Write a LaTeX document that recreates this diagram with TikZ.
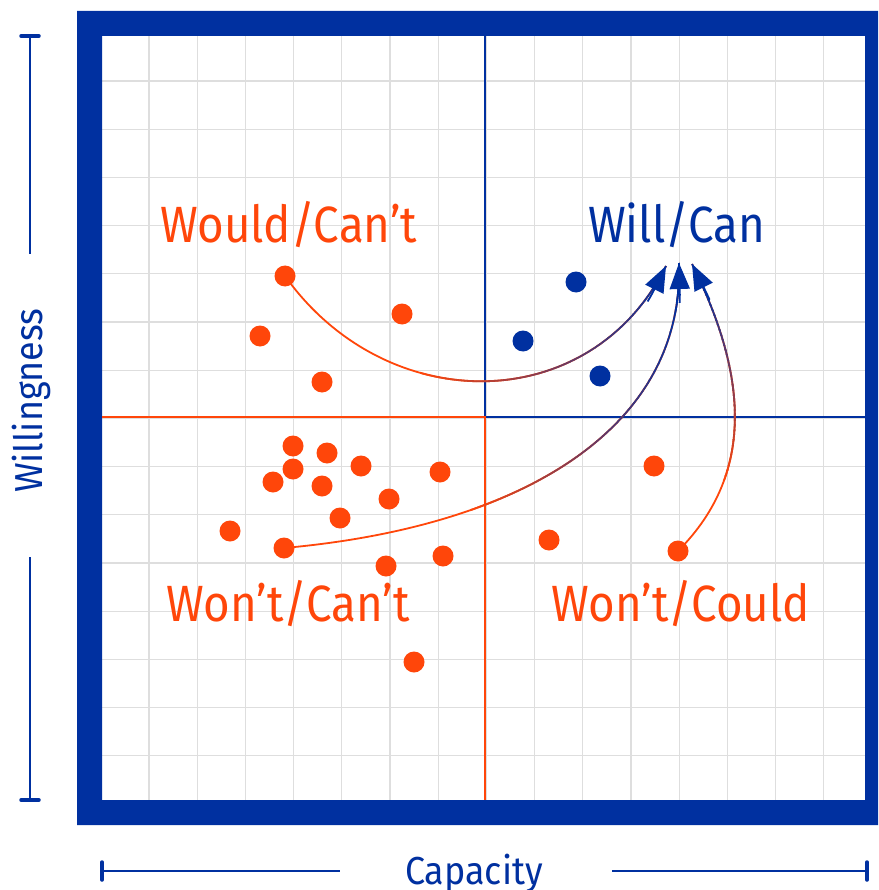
\documentclass[tikz,border=0pt]{standalone}
\usepackage{fontspec}
\setmainfont{Fira Sans}
\newfontfamily\lblfont[FakeStretch=0.92]{Fira Sans}
\newfontfamily\qfont[FakeStretch=0.895]{Fira Sans}
\usetikzlibrary{arrows.meta}
\definecolor{cblue}{RGB}{0,48,160}
\definecolor{corange}{RGB}{255,70,10}
\definecolor{cgrid}{RGB}{222,222,222}
\begin{document}
\begin{tikzpicture}[x=1pt,y=-1pt,
  dot/.style={circle,fill=corange,draw=none,inner sep=0pt,minimum size=21pt},
  bdot/.style={dot,fill=cblue},
  gridline/.style={cgrid,line width=1.3pt},
  qline/.style={line width=2pt},
  axisline/.style={cblue,line width=1.6pt},
  axiscap/.style={cblue,line width=3.5pt,line cap=round},
  qlabel/.style={font=\qfont\fontsize{51}{60}\selectfont,anchor=base west,inner sep=0pt},
  alabel/.style={font=\lblfont\fontsize{39}{46}\selectfont,text=cblue,anchor=base west,inner sep=0pt},
  flow/.style={line width=1.8pt},
  tipstyle/.style={cblue,line width=1.8pt,-{Triangle[length=26pt,width=20pt]}},
]
\useasboundingbox (0,0) rectangle (878,890);
\fill[white] (0,0) rectangle (878,890);
% grid
\foreach \k in {0,...,14}{
  \draw[gridline] ({149+48.2*\k},36) -- ({149+48.2*\k},800);
  \draw[gridline] (102,{81+48.2*\k}) -- (865,{81+48.2*\k});
}
% frame
\fill[cblue,even odd rule] (77,11) rectangle (878,825) (102,36) rectangle (865,800);
% quadrant lines
\coordinate (ctr) at (485,417);
\coordinate (qt) at (485,36);
\coordinate (qb) at (485,800);
\coordinate (ql) at (102,417);
\coordinate (qr) at (865,417);
\draw[qline,cblue] (qt) -- (ctr) -- (qr);
\draw[qline,corange] (ql) -- (ctr) -- (qb);
% axes
\coordinate (ya1) at (30,36); \coordinate (ya2) at (30,254);
\coordinate (yb1) at (30,557); \coordinate (yb2) at (30,800);
\draw[axisline] (ya1) -- (ya2); \draw[axiscap] (21,36) -- (39,36);
\draw[axisline] (yb1) -- (yb2); \draw[axiscap] (21,800) -- (39,800);
\coordinate (xa1) at (102,871); \coordinate (xa2) at (340,871);
\coordinate (xb1) at (612,871); \coordinate (xb2) at (867,871);
\draw[axisline] (xa1) -- (xa2); \draw[axiscap] (102,862) -- (102,880);
\draw[axisline] (xb1) -- (xb2); \draw[axiscap] (867,862) -- (867,880);
\node[alabel,rotate=90] (wl) at (42,493) {Willingness};
\node[alabel] (cp) at (405,884) {Capacity};
% quadrant labels
\node[qlabel,text=corange] (lwc) at (160,243) {Would/Can’t};
\node[qlabel,text=cblue] (lwl) at (588,243) {Will/Can};
\node[qlabel,text=corange] (lnc) at (166,621) {Won’t/Can’t};
\node[qlabel,text=corange] (lnd) at (551,621) {Won’t/Could};
% start dots (positions) and tips
\coordinate (s1) at (285,276);
\coordinate (s2) at (284,548);
\coordinate (s3) at (678,551);
\coordinate (t1) at (666,266);
\coordinate (t2) at (679,263);
\coordinate (t3) at (692,264);
\def\cA{(s1) .. controls (386,418) and (590,418) .. (t1)}
\def\cB{(s2) .. controls (520,527) and (684,430) .. (t2)}
\def\cC{(s3) .. controls (759,470) and (744,368) .. (t3)}
% curve 1
\draw[flow,corange] \cA;
\foreach \i in {0,...,39}{
  \pgfmathsetmacro\xa{420+\i*6.25}
  \pgfmathsetmacro\pc{100*(\i+0.5)/40}
  \begin{scope}
    \clip (\xa,0) rectangle ({\xa+6.6},890);
    \draw[flow,cblue!\pc!corange] \cA;
  \end{scope}
}
\begin{scope}
  \clip (t1) circle (40);
  \draw[tipstyle] \cA;
\end{scope}
% curve 2
\draw[flow,corange] \cB;
\foreach \i in {0,...,39}{
  \pgfmathsetmacro\xa{470+\i*5.25}
  \pgfmathsetmacro\pc{100*(\i+0.5)/40}
  \begin{scope}
    \clip (\xa,0) rectangle ({\xa+5.6},890);
    \draw[flow,cblue!\pc!corange] \cB;
  \end{scope}
}
\begin{scope}
  \clip (676,600) rectangle (878,0);
  \draw[flow,cblue] \cB;
\end{scope}
\begin{scope}
  \clip (t2) circle (40);
  \draw[tipstyle] \cB;
\end{scope}
% curve 3
\draw[flow,corange] \cC;
\foreach \i in {0,...,39}{
  \pgfmathsetmacro\ya{480-\i*5}
  \pgfmathsetmacro\pc{100*(\i+0.5)/40}
  \begin{scope}
    \clip (600,\ya) rectangle (878,{\ya-5.4});
    \draw[flow,cblue!\pc!corange] \cC;
  \end{scope}
}
\begin{scope}
  \clip (600,281) rectangle (878,200);
  \draw[flow,cblue] \cC;
\end{scope}
\begin{scope}
  \clip (t3) circle (40);
  \draw[tipstyle] \cC;
\end{scope}
% orange dots
\node[dot] (o1) at (s1) {};
\node[dot] (o2) at (260,336) {};
\node[dot] (o3) at (402,314) {};
\node[dot] (o4) at (322,382) {};
\node[dot] (o5) at (293,446) {};
\node[dot] (o6) at (327,453) {};
\node[dot] (o7) at (361,466) {};
\node[dot] (o8) at (293,469) {};
\node[dot] (o9) at (273,482) {};
\node[dot] (o10) at (322,486) {};
\node[dot] (o11) at (440,472) {};
\node[dot] (o12) at (389,499) {};
\node[dot] (o13) at (340,518) {};
\node[dot] (o14) at (230,531) {};
\node[dot] (o15) at (s2) {};
\node[dot] (o16) at (386,566) {};
\node[dot] (o17) at (443,556) {};
\node[dot] (o18) at (414,662) {};
\node[dot] (o19) at (549,540) {};
\node[dot] (o20) at (654,466) {};
\node[dot] (o21) at (s3) {};
% blue dots
\node[bdot] (b1) at (576,282) {};
\node[bdot] (b2) at (523,341) {};
\node[bdot] (b3) at (600,376) {};
\end{tikzpicture}
\end{document}
